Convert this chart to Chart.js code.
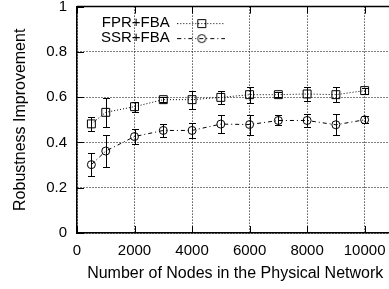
<!DOCTYPE html>
<html lang="en">
<head>
<meta charset="UTF-8">
<title>Robustness Improvement</title>
<script src="https://cdn.jsdelivr.net/npm/chart.js"></script>
<style>
  html, body { margin: 0; padding: 0; background: #fff; overflow: hidden; }
  #wrap { position: relative; width: 400px; height: 289px; }
</style>
</head>
<body>
<div id="wrap"><canvas id="chart" width="400" height="289"></canvas></div>
<script>
// data
const nodes = [500, 1000, 2000, 3000, 4000, 5000, 6000, 7000, 8000, 9000, 10000];
const fprMean = [0.482, 0.533, 0.558, 0.589, 0.589, 0.599, 0.611, 0.611, 0.614, 0.611, 0.629];
const fprErr  = [0.030, 0.065, 0.022, 0.010, 0.040, 0.030, 0.035, 0.012, 0.033, 0.033, 0.013];
const ssrMean = [0.302, 0.362, 0.426, 0.453, 0.453, 0.481, 0.479, 0.497, 0.497, 0.478, 0.500];
const ssrErr  = [0.050, 0.070, 0.034, 0.030, 0.032, 0.039, 0.044, 0.022, 0.028, 0.046, 0.015];
const seriesNames = ['FPR+FBA', 'SSR+FBA'];
const xTicks = [0, 2000, 4000, 6000, 8000, 10000];
const yTicks = [0, 0.2, 0.4, 0.6, 0.8, 1];

const FONT = 'Liberation Sans, Arial, Helvetica, sans-serif';
const fprDash = [1, 2];
const ssrDash = [4, 3, 1, 3];

function toPoints(xs, ys) {
    return xs.map((x, i) => ({ x: x, y: ys[i] }));
}

// little line+marker picture used as legend symbol (gnuplot style)
function legendSample(dash, marker) {
    const c = document.createElement('canvas');
    c.width = 48; c.height = 12;
    const g = c.getContext('2d');
    g.strokeStyle = '#000';
    g.lineWidth = 1;
    g.setLineDash(dash);
    g.beginPath(); g.moveTo(0, 6.5); g.lineTo(48, 6.5); g.stroke();
    g.setLineDash([]);
    g.beginPath();
    if (marker === 'rect') {
        g.rect(20.5, 2.5, 8, 8);
    } else {
        g.arc(24.5, 6.5, 4, 0, Math.PI * 2);
    }
    g.stroke();
    return c;
}
const legendImgs = [legendSample(fprDash, 'rect'), legendSample(ssrDash, 'circle')];

// vertical error bars with caps
const errorBars = {
    id: 'errorBars',
    afterDatasetsDraw(chart) {
        const { ctx, scales: { x, y } } = chart;
        ctx.save();
        ctx.strokeStyle = '#000';
        ctx.lineWidth = 1;
        chart.data.datasets.forEach(ds => {
            ds.errors.forEach((e, i) => {
                const p = ds.data[i];
                const px = Math.round(x.getPixelForValue(p.x)) + 0.5;
                const hi = Math.round(y.getPixelForValue(p.y + e)) + 0.5;
                const lo = Math.round(y.getPixelForValue(p.y - e)) + 0.5;
                ctx.beginPath();
                ctx.moveTo(px, hi); ctx.lineTo(px, lo);
                ctx.moveTo(px - 3.5, hi); ctx.lineTo(px + 3.5, hi);
                ctx.moveTo(px - 3.5, lo); ctx.lineTo(px + 3.5, lo);
                ctx.stroke();
            });
        });
        ctx.restore();
    }
};

// solid top border and inward tick marks
const frame = {
    id: 'frame',
    afterDraw(chart) {
        const { ctx, chartArea: a, scales: { x, y } } = chart;
        ctx.save();
        ctx.strokeStyle = '#000';
        ctx.lineWidth = 1.5;
        ctx.beginPath();
        ctx.moveTo(a.left, a.top); ctx.lineTo(a.right, a.top);
        ctx.stroke();
        ctx.lineWidth = 1;
        ctx.beginPath();
        xTicks.forEach(v => {
            const px = Math.round(x.getPixelForValue(v)) + 0.5;
            ctx.moveTo(px, a.bottom); ctx.lineTo(px, a.bottom - 7);
            ctx.moveTo(px, a.top); ctx.lineTo(px, a.top + 7);
        });
        yTicks.forEach(v => {
            const py = Math.round(y.getPixelForValue(v)) + 0.5;
            ctx.moveTo(a.left, py); ctx.lineTo(a.left + 7, py);
        });
        ctx.stroke();
        ctx.restore();
    }
};

// move the in-plot legend to the upper left corner
const legendPlace = {
    id: 'legendPlace',
    afterLayout(chart) {
        const lg = chart.legend;
        if (!lg) return;
        lg.left = chart.chartArea.left + 14;
        lg.right = lg.left + lg.width;
        lg.top = chart.chartArea.top + 9;
        lg.bottom = lg.top + lg.height;
    }
};

const ctx = document.getElementById('chart').getContext('2d');
new Chart(ctx, {
    type: 'line',
    data: {
        datasets: [{
            label: seriesNames[0],
            data: toPoints(nodes, fprMean),
            errors: fprErr,
            borderColor: '#000',
            borderWidth: 1,
            borderDash: fprDash,
            pointStyle: 'rect',
            pointRadius: 5.6,
            pointBorderWidth: 1,
            pointBorderColor: '#000',
            pointBackgroundColor: 'rgba(0,0,0,0)',
            tension: 0
        }, {
            label: seriesNames[1],
            data: toPoints(nodes, ssrMean),
            errors: ssrErr,
            borderColor: '#000',
            borderWidth: 1,
            borderDash: ssrDash,
            pointStyle: 'circle',
            pointRadius: 4,
            pointBorderWidth: 1,
            pointBorderColor: '#000',
            pointBackgroundColor: 'rgba(0,0,0,0)',
            tension: 0
        }]
    },
    options: {
        responsive: false,
        animation: false,
        layout: { padding: { left: 4, right: 4, top: 0, bottom: 2 } },
        plugins: {
            tooltip: { enabled: false },
            legend: {
                position: 'chartArea',
                align: 'start',
                rtl: true,
                textDirection: 'ltr',
                labels: {
                    color: '#000',
                    font: { family: FONT, size: 15 },
                    padding: 0,
                    usePointStyle: true,
                    pointStyleWidth: 48,
                    generateLabels(chart) {
                        const items = Chart.defaults.plugins.legend.labels.generateLabels(chart);
                        items.forEach((it, i) => { it.pointStyle = legendImgs[i]; });
                        return items;
                    }
                }
            }
        },
        scales: {
            x: {
                type: 'linear',
                min: 0,
                max: 11000,
                afterBuildTicks(scale) { scale.ticks = xTicks.map(v => ({ value: v })); },
                afterFit(scale) { scale.height = 54; scale.paddingLeft = 0; scale.paddingRight = 0; },
                ticks: {
                    color: '#000',
                    font: { family: FONT, size: 15 },
                    padding: 9,
                    maxRotation: 0,
                    callback: v => String(v)
                },
                grid: { color: '#000', lineWidth: 1, drawTicks: false },
                border: { color: '#000', width: 1.5, dash: [1, 2] },
                title: {
                    display: true,
                    text: 'Number of Nodes in the Physical Network',
                    color: '#000',
                    font: { family: FONT, size: 16 },
                    padding: { top: 0, bottom: 4 }
                }
            },
            y: {
                min: 0,
                max: 1,
                afterBuildTicks(scale) { scale.ticks = yTicks.map(v => ({ value: v })); },
                afterFit(scale) { scale.width = 73; scale.paddingTop = 5.5; scale.paddingBottom = 0; },
                ticks: {
                    color: '#000',
                    font: { family: FONT, size: 15 },
                    padding: 10,
                    callback: v => String(v)
                },
                grid: { color: '#000', lineWidth: 1, drawTicks: false },
                border: { color: '#000', width: 1.5, dash: [1, 2] },
                title: {
                    display: true,
                    text: 'Robustness Improvement',
                    color: '#000',
                    font: { family: FONT, size: 16 },
                    padding: { top: 7, bottom: 0 }
                }
            }
        }
    },
    plugins: [errorBars, frame, legendPlace]
});
</script>
</body>
</html>
